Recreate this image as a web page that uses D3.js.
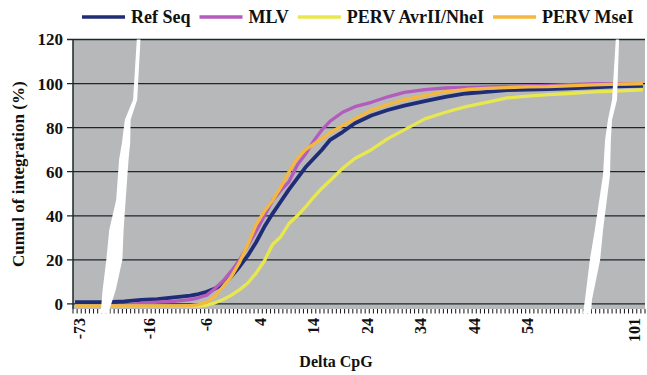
<!DOCTYPE html>
<html>
<head>
<meta charset="utf-8">
<script src="https://cdn.jsdelivr.net/npm/d3@7"></script>
<style>
  body { margin: 0; background: #fff; }
  svg { display: block; }
</style>
</head>
<body>
<svg id="chart"></svg>
<script>
// series
const seriesNames = ['Ref Seq', 'MLV', 'PERV AvrII/NheI', 'PERV MseI']
const seriesColors = ['#1f2c76', '#b35cbd', '#e8e84e', '#f5b83e']

// Delta CpG category axis: 139 categories, only a few carry a label
const categoryCount = 139
const xTickLabels = ['-73', '-16', '-6', '4', '14', '24', '34', '44', '54', '101']
const xTickCategory = [1, 18, 32, 45, 58, 71, 84, 97, 110, 136]
const yTicks = [0, 20, 40, 60, 80, 100, 120]

// categories at which the cumulative curves were read
const sampleCategory = [0, 3, 5, 8, 12, 16, 20, 24, 28, 30, 32, 34, 36, 38, 40, 42, 44, 46, 48, 50,
  52, 54, 56, 58, 60, 62, 65, 68, 72, 76, 80, 85, 90, 95, 100, 105, 110, 115, 120, 126, 130, 134, 138]

const refSeq = [0.8, 0.8, 0.8, 0.8, 1.2, 1.8, 2.2, 3, 3.8, 4.5, 5.5, 7, 9, 12.5, 17, 22, 28, 35, 41, 46.5,
  52, 57, 62, 66, 70, 74.5, 78, 82, 85.5, 88, 90, 92, 94, 95.5, 96.2, 97, 97.3, 97.5, 97.8, 98.3, 98.6, 98.8, 99]
const mlv = [-1, -1, -1, -1, -0.5, 0.3, 0.8, 1.2, 2, 2.8, 4, 7, 10.5, 15, 20, 26.5, 33, 40, 47, 51.5,
  55.5, 63, 68, 74, 79, 83, 87, 89.5, 91.5, 94, 96, 97.3, 98, 98.3, 98.5, 98.7, 99, 99.2, 99.5, 100, 100, 100, 100]
const pervAvr = [-1, -1, -1, -1, -1, -1, -1, -1, -1, -1, -0.5, 0.5, 2, 4, 6.5, 9.5, 14, 19.5, 27, 30.5,
  36.5, 40, 44, 48.5, 52.5, 56, 61.5, 66, 70, 75, 79, 84, 87, 89.5, 91.5, 93.5, 94.3, 95, 95.5, 96.2, 96.5, 96.8, 97.2]
const pervMse = [-1, -1, -1, -1, -1, -1, -1, -1, -0.8, -0.3, 0.8, 3.5, 8, 12.5, 19, 27, 36, 42, 47, 53,
  60, 66, 70, 72.5, 75, 77.7, 81, 84, 88, 90.5, 92.7, 94.5, 96.3, 97.3, 97.8, 98.2, 98.5, 98.6, 99, 99.4, 99.6, 99.8, 100]

const seriesValues = [refSeq, mlv, pervAvr, pervMse]

const width = 647
const height = 375
const plot = { left: 73, right: 645, top: 39.5, bottom: 309 }
const serif = '"Liberation Serif", "Times New Roman", serif'

const svg = d3.select('#chart').attr('width', width).attr('height', height)

const x = d3.scaleBand().domain(d3.range(categoryCount)).range([plot.left, plot.right]).paddingInner(0)
const xLin = d3.scaleLinear().domain([0, categoryCount]).range([plot.left, plot.right])
const y = d3.scaleLinear().domain([-2.3, 120]).range([plot.bottom, plot.top])
const xc = (i) => x(i) + x.bandwidth() / 2

// plot background
svg
  .append('rect')
  .attr('x', plot.left)
  .attr('y', plot.top)
  .attr('width', plot.right - plot.left)
  .attr('height', plot.bottom - plot.top)
  .attr('fill', '#b6b8ba')

// horizontal grid
svg
  .selectAll('.grid')
  .data(yTicks)
  .join('line')
  .attr('class', 'grid')
  .attr('x1', plot.left - 6)
  .attr('x2', plot.right)
  .attr('y1', (d) => y(d))
  .attr('y2', (d) => y(d))
  .attr('stroke', '#1c2828')
  .attr('stroke-width', 1.3)

// y labels
svg
  .selectAll('.ylab')
  .data(yTicks)
  .join('text')
  .attr('class', 'ylab')
  .attr('x', plot.left - 10)
  .attr('y', (d) => y(d))
  .attr('dy', '0.35em')
  .attr('text-anchor', 'end')
  .style('font-family', serif)
  .style('font-weight', 'bold')
  .style('font-size', '17px')
  .attr('fill', '#111')
  .text((d) => d)

// category tick marks
svg
  .selectAll('.xtick')
  .data(d3.range(categoryCount + 1))
  .join('line')
  .attr('class', 'xtick')
  .attr('x1', (d) => xLin(d))
  .attr('x2', (d) => xLin(d))
  .attr('y1', plot.bottom)
  .attr('y2', plot.bottom + 4.5)
  .attr('stroke', '#111')
  .attr('stroke-width', 1)

// curves
const line = d3
  .line()
  .x((d, k) => xc(sampleCategory[k]))
  .y((d) => y(d))

svg
  .selectAll('.series')
  .data(seriesValues)
  .join('path')
  .attr('class', 'series')
  .attr('fill', 'none')
  .attr('stroke', (d, i) => seriesColors[i])
  .attr('stroke-width', (d, i) => (i === 0 ? 3.8 : 3.3))
  .attr('stroke-linejoin', 'round')
  .attr('d', line)

// y axis line
svg
  .append('line')
  .attr('x1', plot.left)
  .attr('x2', plot.left)
  .attr('y1', plot.top)
  .attr('y2', plot.bottom)
  .attr('stroke', '#1c2828')
  .attr('stroke-width', 1.5)

// white axis-break slashes, given as [category, %] pairs
const breaks = [
  [[15.5, 120], [14.6, 92.7], [12.6, 83.6], [11.9, 73.2], [11.2, 65.5], [10.5, 47.3], [8.8, 33.6], [8.1, 20],
    [7.2, 6.4], [6.8, -2.3], [6.8, -4.3], [8.9, -4.3], [8.9, -2.3], [10.4, 6.4], [12, 20], [12.3, 33.6],
    [12.8, 47.3], [13.5, 65.5], [13.9, 73.2], [14, 83.6], [15.6, 92.7], [16.4, 120]],
  [[131.9, 120], [131, 92.7], [130, 83.6], [129.3, 74.5], [128.8, 58.6], [126.8, 33.6], [125.6, 20],
    [124.4, 1.8], [123.9, -4.3], [125.9, -4.3], [126.1, 1.8], [128.1, 20], [128.8, 33.6], [130.5, 58.6],
    [130.7, 74.5], [131, 83.6], [132.2, 92.7], [132.7, 120]]
]
svg
  .selectAll('.break')
  .data(breaks)
  .join('path')
  .attr('class', 'break')
  .attr('fill', '#fff')
  .attr('d', (d) => d3.line().x((p) => xLin(p[0])).y((p) => y(p[1]))(d) + 'Z')

// x labels (rotated)
svg
  .selectAll('.xlab')
  .data(xTickLabels)
  .join('text')
  .attr('class', 'xlab')
  .attr('transform', (d, i) => `translate(${xc(xTickCategory[i])},${plot.bottom + 9}) rotate(-90)`)
  .attr('dy', '0.35em')
  .attr('text-anchor', 'end')
  .style('font-family', serif)
  .style('font-weight', 'bold')
  .style('font-size', '16px')
  .attr('fill', '#111')
  .text((d) => d)

// axis titles
svg
  .append('text')
  .attr('x', (plot.left + plot.right) / 2 - 23)
  .attr('y', 367)
  .attr('text-anchor', 'middle')
  .style('font-family', serif)
  .style('font-weight', 'bold')
  .style('font-size', '16px')
  .attr('fill', '#111')
  .text('Delta CpG')

svg
  .append('text')
  .attr('transform', `translate(18,${(plot.top + plot.bottom) / 2}) rotate(-90)`)
  .attr('dy', '0.35em')
  .attr('text-anchor', 'middle')
  .style('font-family', serif)
  .style('font-weight', 'bold')
  .style('font-size', '17px')
  .attr('fill', '#111')
  .text('Cumul of integration (%)')

// legend
const legend = svg.append('g').attr('transform', 'translate(82,17)')
let lx = 0
seriesNames.forEach((name, i) => {
  legend
    .append('line')
    .attr('x1', lx)
    .attr('x2', lx + 43)
    .attr('stroke', seriesColors[i])
    .attr('stroke-width', 3.5)
  const t = legend
    .append('text')
    .attr('x', lx + 49)
    .attr('dy', '0.35em')
    .style('font-family', serif)
    .style('font-weight', 'bold')
    .style('font-size', '18px')
    .attr('fill', '#111')
    .text(name)
  lx += 49 + t.node().getComputedTextLength() + 9
})
</script>
</body>
</html>
